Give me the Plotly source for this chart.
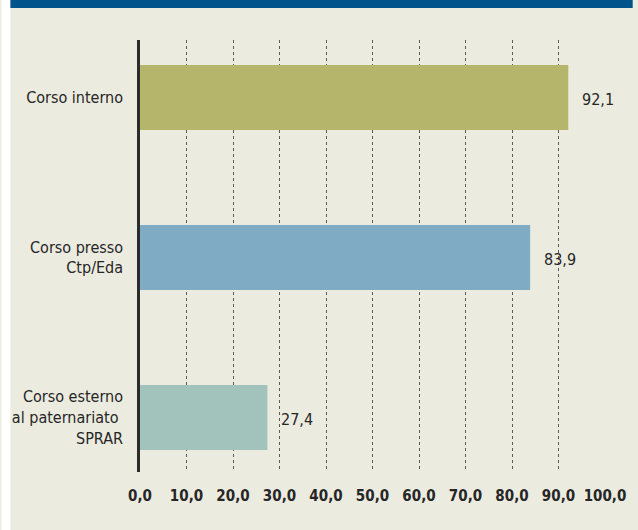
import plotly.graph_objects as go

categories = ["Corso interno", "Corso presso<br>Ctp/Eda", "Corso esterno<br>al paternariato <br>SPRAR"]
values = [92.1, 83.9, 27.4]
value_labels = ["92,1", "83,9", "27,4"]
bar_colors = ["#b5b66b", "#7fabc5", "#a1c3bc"]
tick_vals = [0, 10, 20, 30, 40, 50, 60, 70, 80, 90, 100]
tick_text = ["0,0", "10,0", "20,0", "30,0", "40,0", "50,0", "60,0", "70,0", "80,0", "90,0", "100,0"]

FONT = "DejaVu Sans Condensed, Liberation Sans Narrow, sans-serif"
TXT = "#262626"
BG = "#ecebe0"

fig = go.Figure()
fig.add_trace(go.Bar(
    x=values, y=categories, orientation="h",
    marker=dict(color=bar_colors, line=dict(width=0)),
    width=0.406, hoverinfo="skip",
))

for v, lab, c in zip(values, value_labels, categories):
    fig.add_annotation(x=v, y=c, text=lab, showarrow=False, xanchor="left",
                       xshift=12, yshift=-2, font=dict(family=FONT, size=16, color=TXT))

W, H = 638, 530
L, R, T, B = 140, 28, 40, 58
pw, ph = W - L - R, H - T - B
def px(x):
    return (x - L) / pw
def py(y):
    return (H - B - y) / ph

fig.update_layout(
    width=W, height=H,
    margin=dict(l=L, r=R, t=T, b=B, pad=0),
    paper_bgcolor=BG, plot_bgcolor=BG,
    showlegend=False,
    font=dict(family=FONT, color=TXT),
    xaxis=dict(range=[0, 100], tickvals=tick_vals, ticktext=tick_text,
               showgrid=True, gridcolor="#5a5a5a", griddash="dot", gridwidth=1,
               zeroline=False, showline=False, ticks="",
               tickfont=dict(family=FONT, size=15, color=TXT, weight="bold"),
               ticklabelstandoff=13, fixedrange=True),
    yaxis=dict(range=[2.341, -0.359], showgrid=False, zeroline=False,
               showline=True, linecolor="#2b2b2b", linewidth=2.5, ticks="",
               tickfont=dict(family=FONT, size=16, color=TXT),
               ticklabelstandoff=11, fixedrange=True),
    shapes=[
        dict(type="rect", xref="paper", yref="paper", x0=px(0), x1=px(9), y0=py(H), y1=py(0),
             fillcolor="white", line=dict(width=0), layer="below"),
        dict(type="rect", xref="paper", yref="paper", x0=px(9), x1=px(W), y0=py(8), y1=py(0),
             fillcolor="#00548c", line=dict(width=0), layer="below"),
    ],
)

fig.write_html("out.html", config={"displayModeBar": False},
               post_script="document.body.style.margin='0';document.body.style.overflow='hidden';")
